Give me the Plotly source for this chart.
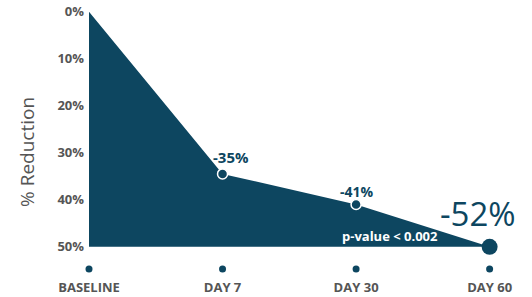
import plotly.graph_objects as go

categories = ["BASELINE", "DAY 7", "DAY 30", "DAY 60"]
reduction = [0, 34.5, 41, 50]          # plotted position (% reduction, axis clipped at 50)
labels = ["", "-35%", "-41%", "-52%"]
y_ticks = [0, 10, 20, 30, 40, 50]
y_ticktext = ["0%", "10%", "20%", "30%", "40%", "50%"]
y_title = "% Reduction"
pvalue_text = "p-value < 0.002"

DARK = "#0d4660"
GRAY = "#555555"
FONT = "Open Sans"

x = list(range(len(categories)))
floor = max(y_ticks)

fig = go.Figure()
# baseline for fill
fig.add_trace(go.Scatter(x=x, y=[floor] * len(x), mode="lines",
                         line=dict(width=0, color=DARK), hoverinfo="skip", showlegend=False))
fig.add_trace(go.Scatter(x=x, y=reduction, mode="lines", fill="tonexty",
                         fillcolor=DARK, line=dict(width=0, color=DARK), showlegend=False))
# small markers at Day 7 and Day 30
fig.add_trace(go.Scatter(x=x[1:3], y=reduction[1:3], mode="markers",
                         marker=dict(size=10, color=DARK, line=dict(color="white", width=1.5)),
                         showlegend=False, cliponaxis=False))
# big marker at Day 60
fig.add_trace(go.Scatter(x=[x[3]], y=[reduction[3]], mode="markers",
                         marker=dict(size=16, color=DARK), showlegend=False, cliponaxis=False))
# category dots
fig.add_trace(go.Scatter(x=x, y=[floor + 4.7] * len(x), mode="markers",
                         marker=dict(size=7, color=DARK), showlegend=False, cliponaxis=False))

fig.add_annotation(x=x[1], y=reduction[1], text="<b>" + labels[1] + "</b>", showarrow=False,
                   xshift=8, yshift=17, font=dict(size=15, color=DARK, family=FONT))
fig.add_annotation(x=x[2], y=reduction[2], text="<b>" + labels[2] + "</b>", showarrow=False,
                   xshift=1, yshift=13, font=dict(size=14, color=DARK, family=FONT))
fig.add_annotation(x=x[3], y=reduction[3], text=labels[3], showarrow=False,
                   xshift=-12, yshift=33, font=dict(size=33, color=DARK, family=FONT))
fig.add_annotation(x=x[3], y=reduction[3], text="<b>" + pvalue_text + "</b>", showarrow=False,
                   xshift=-100, yshift=11, font=dict(size=13, color="white", family=FONT))
# y-axis title
fig.add_annotation(x=0, xref="paper", y=0.459, yref="paper", text=y_title, textangle=-90,
                   showarrow=False, xanchor="center", yanchor="middle", xshift=-62,
                   font=dict(size=19, color=GRAY, family=FONT))

fig.update_layout(
    width=532, height=297,
    margin=dict(l=89, r=9, t=7, b=22),
    paper_bgcolor="white", plot_bgcolor="white",
    font=dict(family=FONT, color=GRAY),
    xaxis=dict(range=[0, 3.25], tickvals=x, ticktext=["<b>%s</b>" % c for c in categories],
               showgrid=False, zeroline=False, showline=False, ticks="", automargin=False,
               tickfont=dict(size=13, color=GRAY, family=FONT), ticklabelstandoff=3),
    yaxis=dict(range=[56, -1], tickvals=y_ticks, ticktext=["<b>%s</b>" % t for t in y_ticktext],
               showgrid=False, zeroline=False, showline=False, ticks="", automargin=False,
               tickfont=dict(size=13, color=GRAY, family=FONT), ticklabelstandoff=4),
)

fig.write_html("out.html", config={"displayModeBar": False},
               post_script="document.body.style.margin='0';")
